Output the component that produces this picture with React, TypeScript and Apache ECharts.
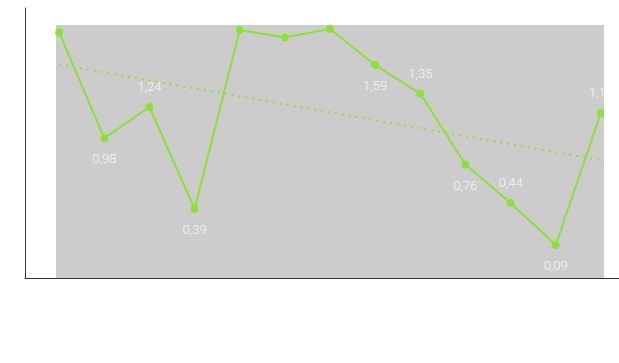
import React, { useEffect, useRef } from "react";
import * as echarts from "echarts";

const xValues = [1, 2, 3, 4, 5, 6, 7, 8, 9, 10, 11, 12, 13];
const seriesValues = [1.86, 0.98, 1.24, 0.39, 1.88, 1.82, 1.89, 1.59, 1.35, 0.76, 0.44, 0.09, 1.19];
const labelShown = [false, true, true, true, false, false, false, true, true, true, true, true, true];
const labelPos = ["top", "bottom", "top", "bottom", "top", "bottom", "top", "bottom", "top", "bottom", "top", "bottom", "top"];
const trendX = [1, 13.07];
const trendY = [1.594, 0.7925];

export default function App() {
  const ref = useRef<HTMLDivElement>(null);
  useEffect(() => {
    document.body.style.margin = "0";
    const chart = echarts.init(ref.current!, null, { renderer: "svg" });
    const green = "#8ae234";
    const data = xValues.map((x, i) => ({
      value: [x, seriesValues[i]],
      label: {
        show: labelShown[i],
        position: labelPos[i],
      },
    }));
    chart.setOption({
      animation: false,
      grid: [
        { left: 56, right: 15, top: 25, bottom: 85, show: true, backgroundColor: "#cccccc", borderWidth: 0 },
        { left: 25, right: 0, top: 8, bottom: 85, show: false },
      ],
      xAxis: [
        { type: "value", gridIndex: 0, min: 0.93, max: 13.07, show: false },
        {
          type: "value", gridIndex: 1, min: 0, max: 1,
          axisLine: { show: true, lineStyle: { color: "#333", width: 1 } },
          axisTick: { show: false }, axisLabel: { show: false }, splitLine: { show: false },
        },
      ],
      yAxis: [
        { type: "value", gridIndex: 0, min: -0.185, max: 1.923, show: false },
        {
          type: "value", gridIndex: 1, min: 0, max: 1,
          axisLine: { show: true, lineStyle: { color: "#333", width: 1 } },
          axisTick: { show: false }, axisLabel: { show: false }, splitLine: { show: false },
        },
      ],
      series: [
        {
          type: "line",
          xAxisIndex: 0,
          yAxisIndex: 0,
          data: trendX.map((x, i) => [x, trendY[i]]),
          symbol: "none",
          lineStyle: { color: green, width: 2, type: [2, 5] },
          z: 1,
        },
        {
          type: "line",
          xAxisIndex: 0,
          yAxisIndex: 0,
          data,
          symbol: "circle",
          symbolSize: 8,
          itemStyle: { color: green },
          lineStyle: { color: green, width: 2 },
          label: {
            distance: 10,
            color: "#f7f7f7",
            fontFamily: "Roboto",
            fontWeight: 300,
            fontSize: 13,
            formatter: (p: any) => String(p.value[1]).replace(".", ","),
          },
          z: 3,
        },
      ],
      graphic: [
        {
          type: "rect",
          shape: { x: 604, y: 20, width: 15, height: 257 },
          style: { fill: "#ffffff" },
          z: 100,
        },
      ],
    });
    return () => chart.dispose();
  }, []);
  return <div ref={ref} style={{ width: 619, height: 363 }} />;
}
